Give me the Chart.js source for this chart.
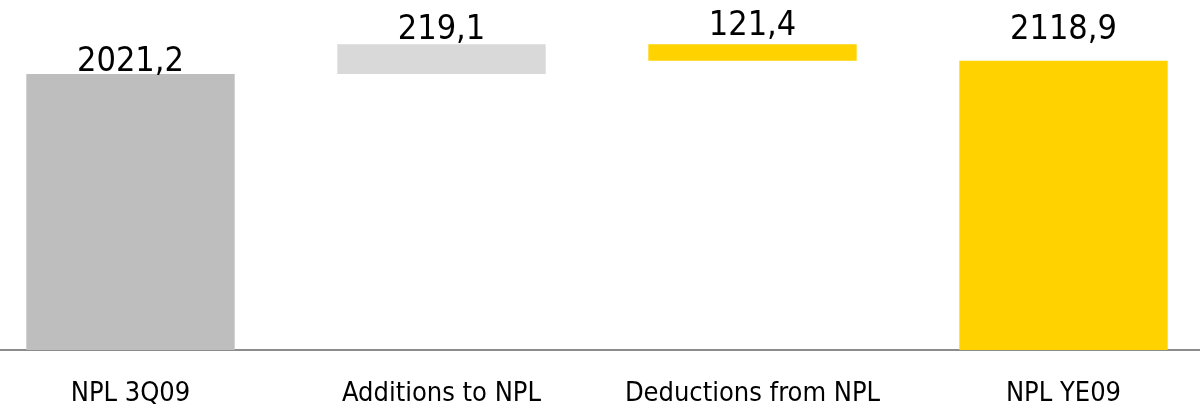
<!DOCTYPE html>
<html>
<head>
<meta charset="utf-8">
<script src="https://cdn.jsdelivr.net/npm/chart.js@4.4.1/dist/chart.umd.min.js"></script>
<style>
    html, body { margin: 0; padding: 0; background: #fff; overflow: hidden; }
    #wrap { position: absolute; left: -25px; top: 0; width: 1244px; height: 412px; }
</style>
</head>
<body>
<div id="wrap"><canvas id="npl" width="1244" height="412"></canvas></div>
<script>
const categories = ['NPL 3Q09', 'Additions to NPL', 'Deductions from NPL', 'NPL YE09'];
// step kind: total bars start at zero, changes float on the running sum
const stepKinds = ['total', 'change', 'change', 'total'];
const stepValues = [2021.2, 219.1, -121.4, 2118.9];
const yMin = 0;
const yMax = 2564;

const barColors = ['#bebebe', '#d9d9d9', '#ffd200', '#ffd200'];
const labelLift = [3, 5, 9, 22]; // px between bar top and label baseline

function buildFloating() {
    let running = 0;
    return stepValues.map((v, i) => {
        if (stepKinds[i] === 'total') {
            running = v;
            return [0, v];
        }
        const from = running;
        running = running + v;
        return [from, running];
    });
}

function fmt(v) {
    return Math.abs(v).toFixed(1).replace('.', ',');
}

const valueLabels = {
    id: 'valueLabels',
    afterDatasetsDraw(chart) {
        const ctx = chart.ctx;
        const meta = chart.getDatasetMeta(0);
        ctx.save();
        ctx.font = '34px "DejaVu Sans Condensed", "DejaVu Sans", sans-serif';
        ctx.fillStyle = '#000';
        ctx.textAlign = 'center';
        ctx.textBaseline = 'alphabetic';
        meta.data.forEach((bar, i) => {
            const top = Math.min(bar.y, bar.base);
            ctx.fillText(fmt(stepValues[i]), bar.x, top - labelLift[i]);
        });
        ctx.restore();
    }
};

new Chart(document.getElementById('npl'), {
    type: 'bar',
    data: {
        labels: categories,
        datasets: [{
            data: buildFloating(),
            backgroundColor: barColors,
            borderWidth: 0,
            barPercentage: 1,
            categoryPercentage: 0.67
        }]
    },
    options: {
        responsive: false,
        animation: false,
        layout: { padding: { top: 0, bottom: 2, left: 0, right: 0 } },
        plugins: {
            legend: { display: false },
            tooltip: { enabled: false }
        },
        scales: {
            x: {
                grid: { display: false, drawTicks: false },
                border: { display: true, color: '#8c8c8c', width: 2 },
                afterFit(scale) { scale.height = 60; },
                ticks: {
                    color: '#000',
                    padding: 28,
                    font: { family: '"DejaVu Sans Condensed", "DejaVu Sans", sans-serif', size: 27 }
                }
            },
            y: {
                display: false,
                min: yMin,
                max: yMax
            }
        }
    },
    plugins: [valueLabels]
});
</script>
</body>
</html>
